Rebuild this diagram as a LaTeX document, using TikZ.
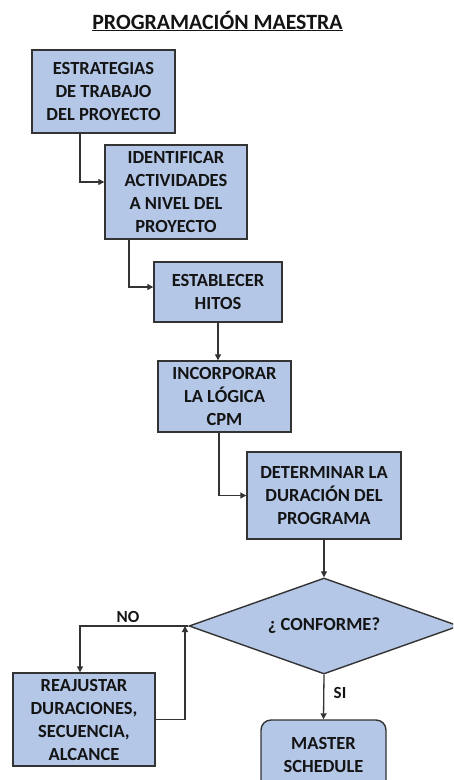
\documentclass[tikz,border=0pt]{standalone}
\usepackage{fontspec}
\setmainfont{Carlito}
\usetikzlibrary{shapes.geometric,arrows.meta}
\definecolor{boxfill}{HTML}{B4C7E7}
\definecolor{boxline}{HTML}{333333}
\definecolor{ink}{HTML}{141414}
\begin{document}
\begin{tikzpicture}[x=1pt,y=-1pt,
  every node/.style={font=\fontsize{18.5}{23}\selectfont\bfseries, text=ink},
  stepbox/.style={draw=boxline, line width=1.4pt, fill=boxfill, align=center,
    inner sep=0pt, minimum width=#1},
  decision/.style={diamond, draw=boxline, line width=1.4pt, fill=boxfill,
    inner sep=0pt, minimum width=270pt, minimum height=96pt, aspect=2.8},
  flow/.style={draw=boxline, line width=1.3pt,
    -{Triangle[length=6pt,width=6pt]}},
  lbl/.style={font=\fontsize{17}{20}\selectfont\bfseries}]
\clip (0,0) rectangle (453,780);
\useasboundingbox (0,0) rectangle (453,780);

% title
\node[font=\fontsize{21.8}{26}\selectfont\bfseries] (title) at (217.5,21)
  {\underline{PROGRAMACIÓN MAESTRA}};

% process steps
\node[stepbox=143pt, minimum height=83pt] (b1) at (103.5,91.5)
  {ESTRATEGIAS\\DE TRABAJO\\DEL PROYECTO};
\node[stepbox=142pt, minimum height=94pt] (b2) at (176,192)
  {IDENTIFICAR\\ACTIVIDADES\\A NIVEL DEL\\PROYECTO};
\node[stepbox=128pt, minimum height=60pt] (b3) at (218,292)
  {ESTABLECER\\HITOS};
\node[stepbox=133pt, minimum height=71pt] (b4) at (224.5,396.5)
  {INCORPORAR\\LA LÓGICA\\CPM};
\node[stepbox=154pt, minimum height=87pt] (b5) at (324,495.5)
  {DETERMINAR LA\\DURACIÓN DEL\\PROGRAMA};
\node[decision] (d) at (324,626) {¿ CONFORME?};
\node[stepbox=142pt, minimum height=93pt] (b6) at (84,719.5)
  {REAJUSTAR\\DURACIONES,\\SECUENCIA,\\ALCANCE};
\node[stepbox=125pt, minimum height=70pt, rounded corners=10pt] (b7) at (323.5,755)
  {MASTER\\SCHEDULE};

% loop junction on the NO branch
\coordinate (j) at (185,626);

% connectors
\draw[flow] ([xshift=-23.5pt]b1.south) |- ([yshift=10pt]b2.west);
\draw[flow] ([xshift=-47pt]b2.south) |- ([yshift=5pt]b3.west);
\draw[flow] (b3.south) -- (b3.south |- b4.north);
\draw[flow] ([xshift=-5.5pt]b4.south) |- (b5.west);
\draw[flow] (b5.south) -- (d.north);
\draw[flow] (d.west) -| ([xshift=-4pt]b6.north);
\draw[flow] (b6.east) -| (j);
\draw[flow] (d.south) -- (b7.north);

% branch labels
\node[lbl] (no) at (128,617) {NO};
\node[lbl] (si) at (340,693) {SI};
\end{tikzpicture}
\end{document}
